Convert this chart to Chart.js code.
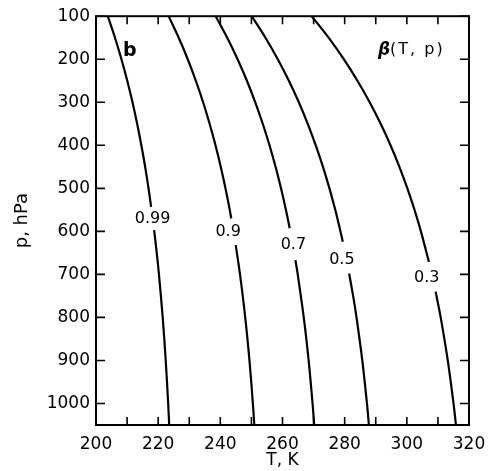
<!DOCTYPE html>
<html><head><meta charset="utf-8">
<script src="https://cdn.jsdelivr.net/npm/chart.js@4.4.1/dist/chart.umd.min.js"></script>
<style>html,body{margin:0;padding:0;background:#fff}#wrap{width:497px;height:471px}</style>
</head><body><div id="wrap"><canvas id="c"></canvas></div>
<script>
// Contour levels of beta(T,p)
const levels = ["0.99", "0.9", "0.7", "0.5", "0.3"];
// Each contour: T (K) and p (hPa); null splits the line where the label sits
const c099T = [203.80, 206.11, 208.19, 210.06, 211.74, 213.24, 214.59, 215.81, 216.90, 217.74, null, 218.70, 219.54, 220.25, 221.46, 222.43, 223.22, 223.55];
const c099P = [100, 150, 200, 250, 300, 350, 400, 450, 500, 543, null, 597, 650, 700, 800, 900, 1000, 1050];
const c09T  = [223.39, 226.62, 229.52, 232.12, 234.46, 236.55, 238.44, 240.13, 241.65, 243.02, 243.52, null, 244.96, 246.33, 248.01, 249.37, 250.47, 250.93];
const c09P  = [100, 150, 200, 250, 300, 350, 400, 450, 500, 550, 570, null, 632, 700, 800, 900, 1000, 1050];
const c07T  = [238.50, 242.22, 245.55, 248.55, 251.24, 253.65, 255.82, 257.77, 259.52, 261.09, 262.32, null, 264.16, 264.90, 266.84, 268.41, 269.67, 270.20];
const c07P  = [100, 150, 200, 250, 300, 350, 400, 450, 500, 550, 593, null, 667, 700, 800, 900, 1000, 1050];
const c05T  = [250.10, 254.52, 258.48, 262.05, 265.25, 268.12, 270.70, 273.02, 275.10, 276.97, 278.64, 279.39, null, 281.44, 282.72, 283.81, 285.67, 287.17, 287.80];
const c05P  = [100, 150, 200, 250, 300, 350, 400, 450, 500, 550, 600, 624, null, 698, 750, 800, 900, 1000, 1050];
const c03T  = [269.40, 274.84, 279.72, 284.11, 288.04, 291.58, 294.75, 297.61, 300.17, 302.47, 304.53, 307.10, null, 309.27, 310.89, 313.17, 315.02, 315.80];
const c03P  = [100, 150, 200, 250, 300, 350, 400, 450, 500, 550, 600, 671, null, 740, 800, 900, 1000, 1050];
// Label anchor positions (T, p)
const labelT = [218.2, 242.5, 263.5, 279.1, 306.4];
const labelP = [572, 600, 632, 667, 709];
// Axes
const xTickLabels = [200, 220, 240, 260, 280, 300, 320];
const xMinorTicks = [210, 220, 230, 240, 250, 260, 270, 280, 290, 300, 310];
const yTickLabels = [100, 200, 300, 400, 500, 600, 700, 800, 900, 1000];

function pts(T, P) { return T.map((t, i) => t === null ? {x: null, y: null} : {x: t, y: P[i]}); }
const series = [[c099T, c099P], [c09T, c09P], [c07T, c07P], [c05T, c05P], [c03T, c03P]];
const FONT = "'DejaVu Sans', sans-serif";

const framePlugin = {
  id: 'frame',
  afterDatasetsDraw(chart) {
    const {ctx, chartArea: a, scales: {x, y}} = chart;
    ctx.save();
    ctx.strokeStyle = '#000';
    ctx.lineWidth = 2;
    ctx.strokeRect(a.left, a.top, a.right - a.left, a.bottom - a.top);
    ctx.lineWidth = 1.6;
    ctx.beginPath();
    xMinorTicks.forEach(v => {
      const px = x.getPixelForValue(v);
      ctx.moveTo(px, a.bottom); ctx.lineTo(px, a.bottom - 8);
      ctx.moveTo(px, a.top); ctx.lineTo(px, a.top + 8);
    });
    yTickLabels.forEach(v => {
      const py = y.getPixelForValue(v);
      ctx.moveTo(a.left, py); ctx.lineTo(a.left + 9, py);
      ctx.moveTo(a.right, py); ctx.lineTo(a.right - 9, py);
    });
    ctx.stroke();
    // contour labels
    ctx.fillStyle = '#000';
    ctx.font = "16px " + FONT;
    ctx.textAlign = 'center'; ctx.textBaseline = 'middle';
    levels.forEach((l, i) => {
      ctx.fillText(l, x.getPixelForValue(labelT[i]), y.getPixelForValue(labelP[i]));
    });
    ctx.font = "bold 19px " + FONT;
    ctx.fillText('b', x.getPixelForValue(210.9), y.getPixelForValue(182));
    ctx.font = "italic bold 17px " + FONT;
    ctx.textAlign = 'left';
    ctx.fillText('β', x.getPixelForValue(290.7), y.getPixelForValue(179));
    ctx.font = "16px " + FONT;
    ctx.letterSpacing = '2px';
    ctx.fillText('(T, p)', x.getPixelForValue(294.6), y.getPixelForValue(179));
    ctx.restore();
  }
};

new Chart(document.getElementById('c'), {
  type: 'scatter',
  data: {
    datasets: series.map((s, i) => ({
      label: levels[i],
      data: pts(s[0], s[1]),
      showLine: true,
      spanGaps: false,
      borderColor: '#000',
      borderWidth: 2.2,
      pointRadius: 0,
      tension: 0.3,
      fill: false
    }))
  },
  options: {
    responsive: true, maintainAspectRatio: false, animation: false,
    layout: {padding: {left: 0, top: 16, right: 28, bottom: 0}},
    plugins: {legend: {display: false}, tooltip: {enabled: false}},
    scales: {
      x: {
        type: 'linear', min: 200, max: 320,
        afterBuildTicks: s => { s.ticks = xTickLabels.map(v => ({value: v})); },
        afterFit: s => { s.height = 46; },
        grid: {display: false, drawTicks: false},
        border: {display: false},
        ticks: {color: '#000', padding: 9, font: {family: FONT, size: 17}, maxRotation: 0, callback: v => String(v)},
        title: {display: true, text: 'T, K', color: '#000', padding: {top: 0, bottom: 0}, font: {family: FONT, size: 17}}
      },
      y: {
        type: 'linear', min: 100, max: 1050, reverse: true,
        afterBuildTicks: s => { s.ticks = yTickLabels.map(v => ({value: v})); },
        afterFit: s => { s.width = 96; },
        grid: {display: false, drawTicks: false},
        border: {display: false},
        ticks: {color: '#000', padding: 6, font: {family: FONT, size: 17}, callback: v => String(v)},
        title: {display: true, text: 'p, hPa', color: '#000', padding: {top: 12, bottom: 4}, font: {family: FONT, size: 18}}
      }
    }
  },
  plugins: [framePlugin]
});
</script></body></html>
